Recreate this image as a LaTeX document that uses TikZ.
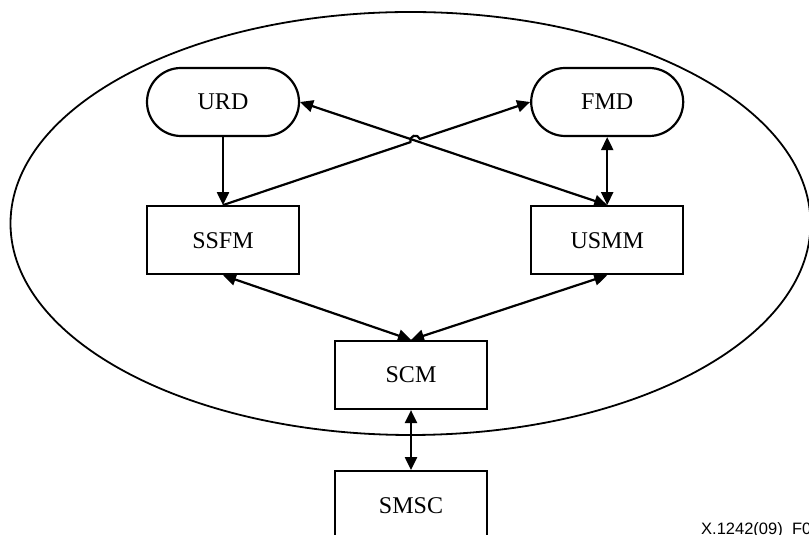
\documentclass[tikz,border=0pt]{standalone}
\usepackage{fontspec}
\setmainfont{Liberation Serif}
\setsansfont{Liberation Sans}
\usetikzlibrary{calc,positioning,shapes.misc,arrows.meta}

\begin{document}
\begin{tikzpicture}[x=1pt,y=1pt]
\pgfmathsetmacro{\dd}{68}
\tikzstyle{blk}=[draw, line width=2.2pt, minimum width=152pt, minimum height=68pt, inner sep=0pt, font=\fontsize{24}{28}\selectfont]
\tikzstyle{trm}=[blk, rounded rectangle]
\tikzstyle{arr}=[line width=2.2pt, -{Triangle[length=13pt,width=12pt]}]
\tikzstyle{biarr}=[arr, {Triangle[length=13pt,width=12pt]}-{Triangle[length=13pt,width=12pt]}]

\useasboundingbox (0,0) rectangle (809,535);
\draw[line width=1.8pt] (410.5,311.5) ellipse [x radius=400pt, y radius=211.5pt];

\node[trm] (URD) at (223,433) {URD};
\node[trm, right = 230pt of URD] (FMD) {FMD};
\node[blk, below = \dd pt of URD] (SSFM) {SSFM};
\node[blk, below = \dd pt of FMD] (USMM) {USMM};
\node[blk] (SCM) at (411,160) {SCM};
\node[blk, below = 60pt of SCM] (SMSC) {SMSC};
\node[anchor=base west, inner sep=0pt, font=\sffamily\fontsize{16.5}{19}\selectfont] (tag) at (701,0.5) {X.1242(09)\_F01};

\draw[arr] (URD.south) -- (SSFM.north);
\coordinate (X) at (intersection of SSFM.north--FMD.west and URD.east--USMM.north);
\draw[arr] (SSFM.north) -- ($(X)!5pt!(SSFM.north)$) arc[start angle=198.6, end angle=18.6, radius=5pt] -- (FMD.west);
\foreach \i/\j in {URD.east/USMM.north, FMD.south/USMM.north, SSFM.south/SCM.north, USMM.south/SCM.north, SCM.south/SMSC.north}{\draw[biarr] (\i) -- (\j);}
\end{tikzpicture}
\end{document}
